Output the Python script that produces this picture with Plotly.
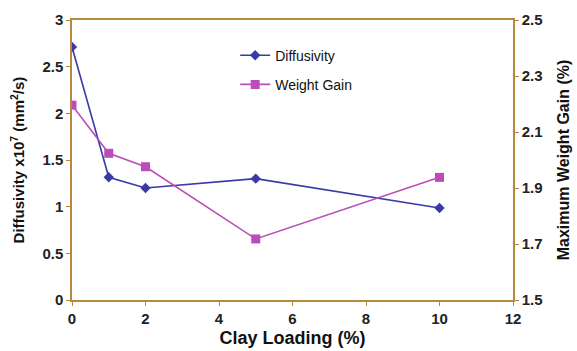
import plotly.graph_objects as go

clay_loading = [0, 1, 2, 5, 10]
diffusivity = [2.71, 1.315, 1.20, 1.30, 0.985]
weight_gain = [2.196, 2.024, 1.976, 1.718, 1.938]

axis_color = "#B8883F"
font_family = "Liberation Sans, Arial, sans-serif"

fig = go.Figure()
fig.add_trace(go.Scatter(
    x=clay_loading, y=diffusivity, name="Diffusivity", mode="lines+markers",
    line=dict(color="#3A3AA6", width=1.6),
    marker=dict(symbol="diamond", size=8, color="#3A3AA6"),
    legendgroup="a",
))
fig.add_trace(go.Scatter(
    x=clay_loading, y=weight_gain, name="Weight Gain", mode="lines+markers",
    line=dict(color="#BA4DBA", width=1.6),
    marker=dict(symbol="square", size=9, color="#BA4DBA"),
    yaxis="y2", legendgroup="b",
))

tickfont = dict(family=font_family, size=15, color="#222222", weight="bold")

fig.update_layout(
    width=577, height=351,
    margin=dict(l=72, r=64, t=20, b=51),
    paper_bgcolor="white", plot_bgcolor="white",
    font=dict(family=font_family),
    showlegend=True,
    legend=dict(x=0.37, y=0.93, xanchor="left", yanchor="top",
                bgcolor="rgba(0,0,0,0)", tracegroupgap=8,
                font=dict(family=font_family, size=14, color="#111111"),
                traceorder="grouped", itemwidth=30),
    xaxis=dict(range=[0, 12], dtick=2, showgrid=False, zeroline=False,
               showline=True, linecolor=axis_color, linewidth=1.5, mirror=True,
               ticks="outside", ticklen=4, tickcolor=axis_color,
               tickfont=tickfont, automargin=False,
               title=dict(text="Clay Loading (%)",
                          font=dict(family=font_family, size=18, color="#111111", weight="bold"),
                          standoff=6)),
    yaxis=dict(range=[0, 3], dtick=0.5, showgrid=False, zeroline=False,
               showline=True, linecolor=axis_color, linewidth=1.5,
               ticks="outside", ticklen=4, tickcolor=axis_color,
               tickfont=tickfont, automargin=False,
               title=dict(text="Diffusivity x10<sup>7</sup> (mm<sup>2</sup>/s)",
                          font=dict(family=font_family, size=15, color="#111111", weight="bold"),
                          standoff=14)),
    yaxis2=dict(range=[1.5, 2.5], tick0=1.5, dtick=0.2, overlaying="y", side="right",
                showgrid=False, zeroline=False,
                showline=True, linecolor=axis_color, linewidth=1.5,
                ticks="outside", ticklen=4, tickcolor=axis_color,
                tickfont=tickfont, tickformat=".1f", automargin=False,
                title=dict(text="Maximum Weight Gain (%)",
                           font=dict(family=font_family, size=16, color="#111111", weight="bold"),
                           standoff=16)),
)

fig.write_html("out.html")
